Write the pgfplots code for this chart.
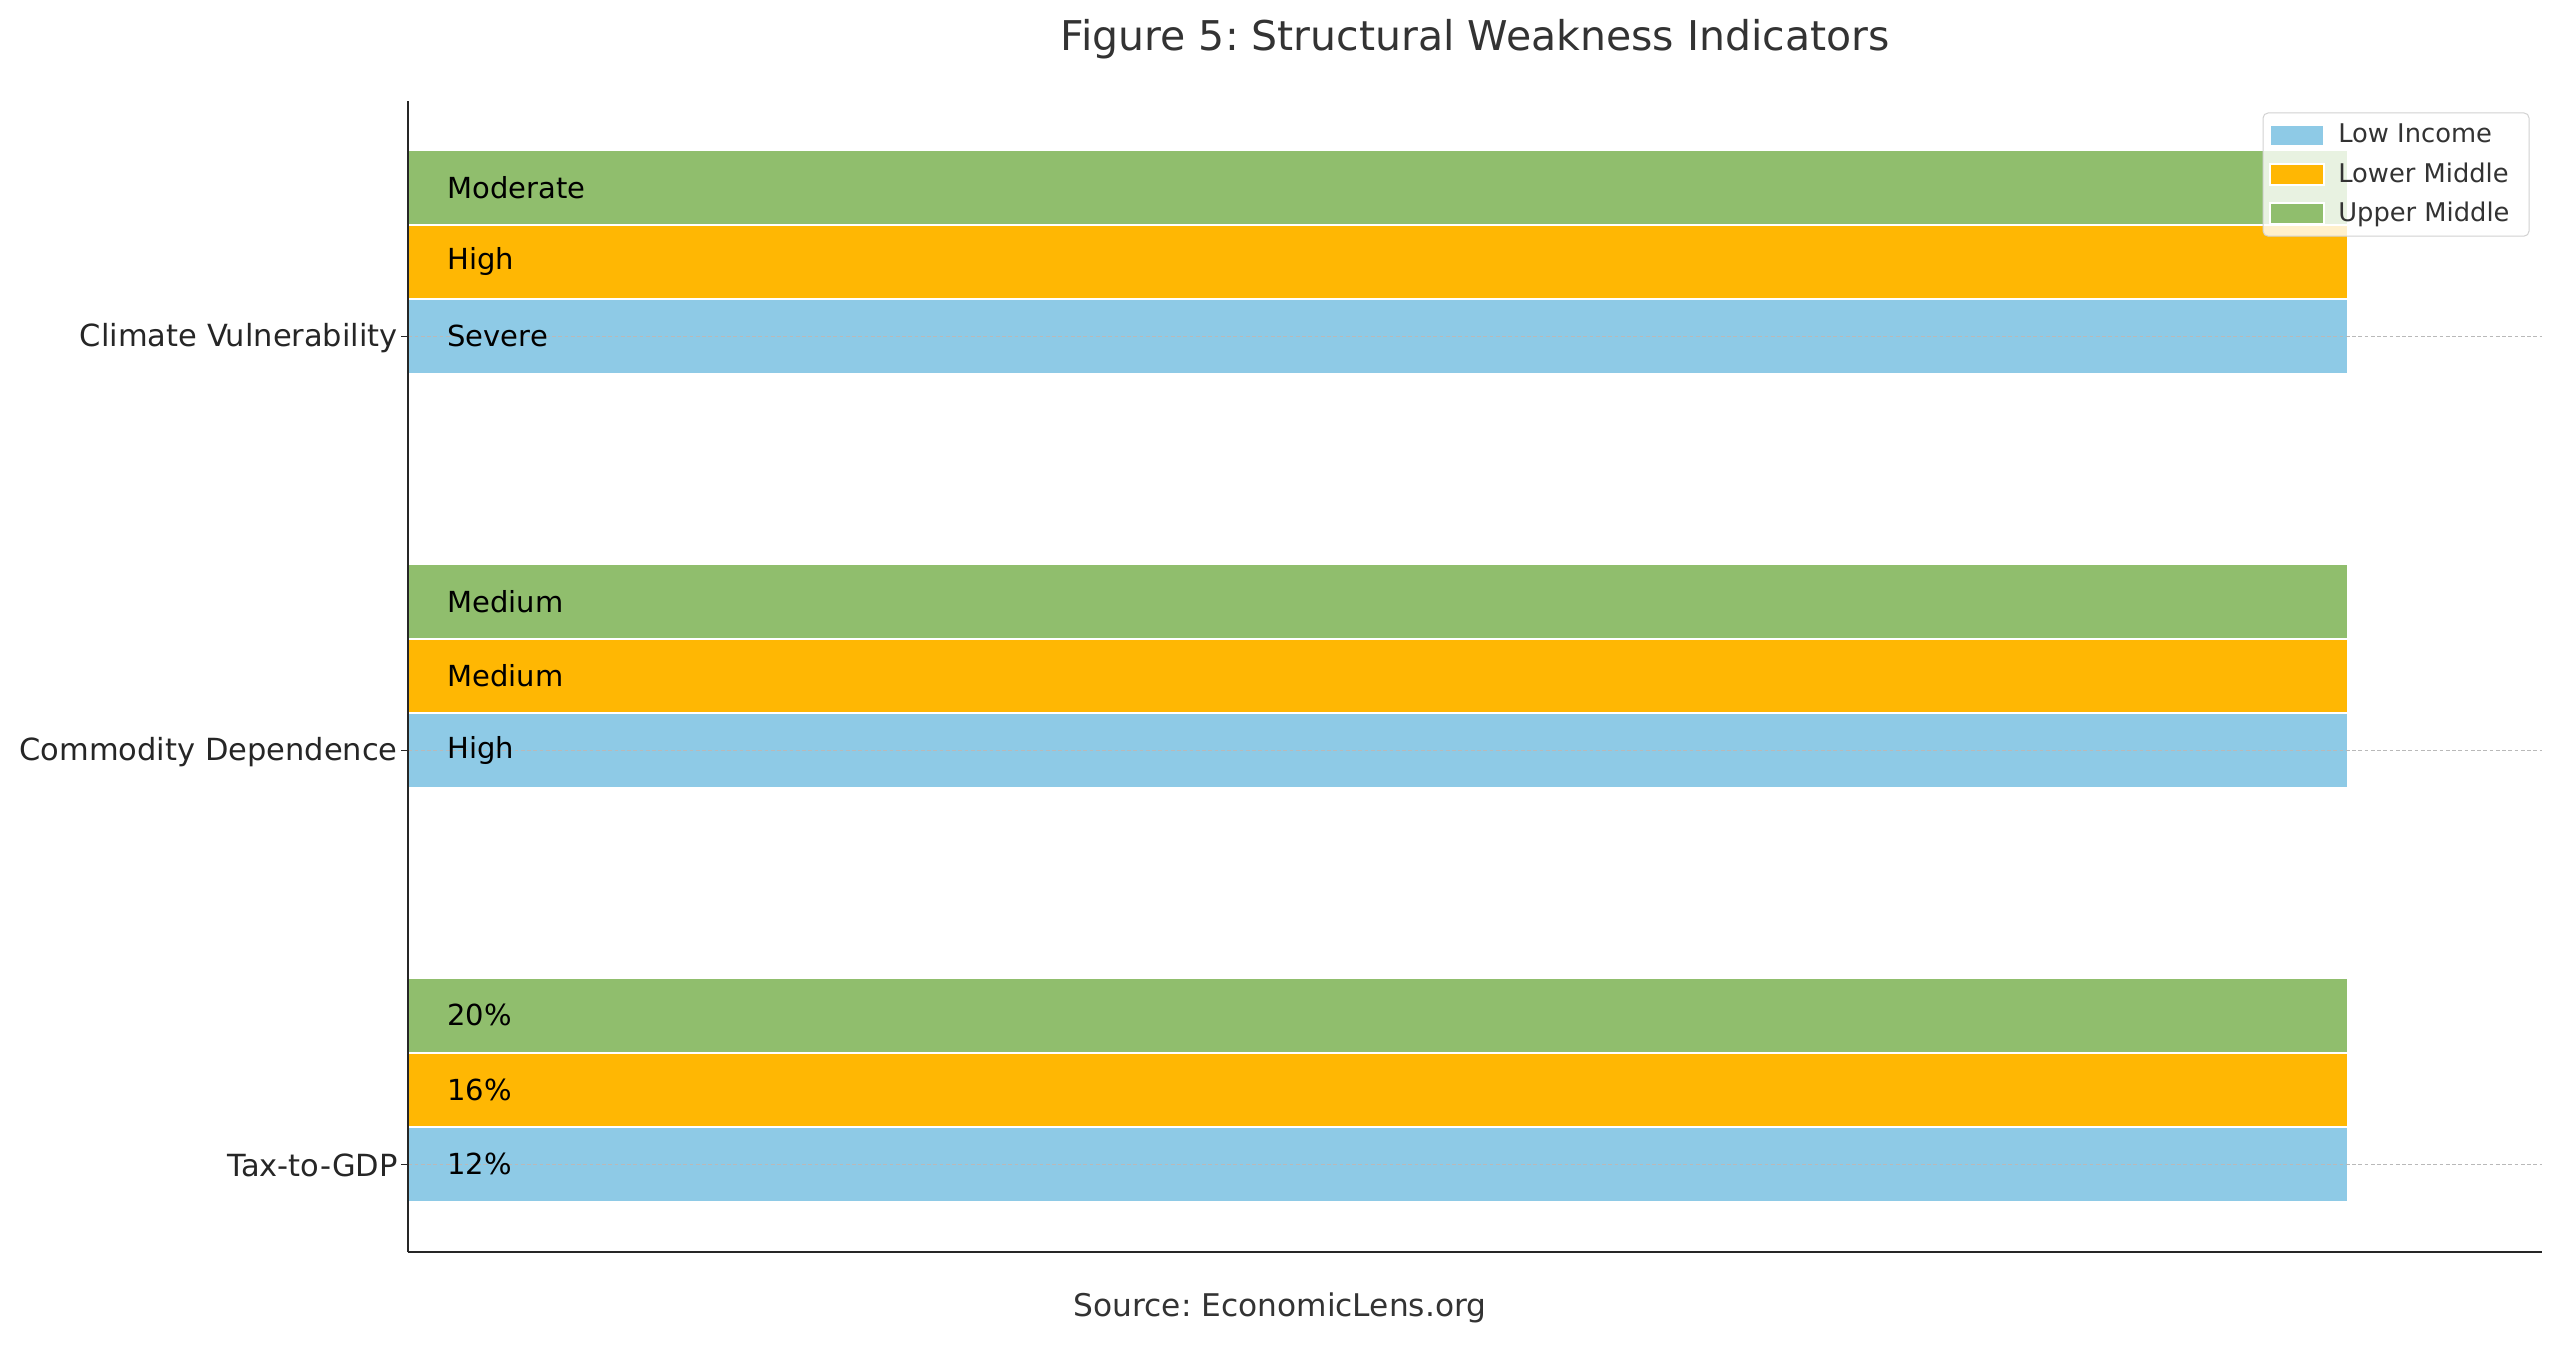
\documentclass[border=0pt]{standalone}
\usepackage{pgfplots}
\pgfplotsset{compat=1.18}
\usepackage{fontspec}
\setmainfont{DejaVu Sans}
\frenchspacing

\definecolor{lowinc}{HTML}{8ECAE6}
\definecolor{lowmid}{HTML}{FFB703}
\definecolor{upmid}{HTML}{90BE6D}
\definecolor{txtgray}{HTML}{333333}
\definecolor{spine}{HTML}{262626}

\begin{document}
\begin{tikzpicture}
\path[use as bounding box] (0,0) rectangle (1024pt,537.6pt);
\begin{axis}[
  at={(163.3pt,36.6pt)}, anchor=south west,
  scale only axis, width=853.5pt, height=460.5pt,
  xmin=0, xmax=1.1, ymin=-0.213, ymax=2.568,
  axis x line*=bottom, axis y line*=left,
  axis line style={-, spine, line width=0.8pt},
  axis on top,
  xtick=\empty,
  ytick={0,1,2},
  yticklabels={Tax-to-GDP, Commodity Dependence, Climate Vulnerability},
  tick align=outside, major tick length=2.8pt,
  tick style={spine, line width=0.6pt},
  yticklabel style={font=\fontsize{12.2}{14}\selectfont, text=spine, inner xsep=1.2pt, yshift=-0.6pt},
  ymajorgrids,
  major grid style={gray!55, dash pattern=on 1.5pt off 1pt, line width=0.4pt},
  bar width=0.18,
  legend style={at={(1,1)}, anchor=north east, xshift=-5pt, yshift=-4.5pt,
    draw=gray!35, rounded corners=2pt, fill=white, fill opacity=0.8, text opacity=1,
    font=\fontsize{10.3}{12}\selectfont, text=txtgray,
    row sep=2.3pt, inner sep=2.5pt},
  legend cell align=left,
  legend image code/.code={\fill[#1, fill opacity=1, sharp corners] (0pt,-4.2pt) rectangle (21.5pt,4.2pt);},
  legend style={nodes={inner xsep=5.3pt}},
  title={Figure 5: Structural Weakness Indicators},
  title style={font=\fontsize{16.4}{19}\selectfont, text=txtgray, yshift=7.3pt},
]
\addplot[xbar, bar shift=0, fill=lowinc, draw=white, line width=0.8pt]
  coordinates {(1,0) (1,1) (1,2)};
\addlegendentry{Low Income}
\addplot[xbar, bar shift=0.18, fill=lowmid, draw=white, line width=0.8pt]
  coordinates {(1,0) (1,1) (1,2)};
\addlegendentry{Lower Middle}
\addplot[xbar, bar shift=0.36, fill=upmid, draw=white, line width=0.8pt]
  coordinates {(1,0) (1,1) (1,2)};
\addlegendentry{Upper Middle}

% in-bar text labels
\addplot[forget plot, draw=none, mark=none, nodes near coords,
  point meta=explicit symbolic,
  every node near coord/.style={anchor=west, inner sep=0pt, text=black,
    font=\fontsize{11.6}{13}\selectfont}]
  coordinates {
    (0.02,0)[12\%] (0.02,0.18)[16\%] (0.02,0.36)[20\%]
    (0.02,1)[High] (0.02,1.18)[Medium] (0.02,1.36)[Medium]
    (0.02,2)[Severe] (0.02,2.18)[High] (0.02,2.36)[Moderate]
  };
\end{axis}
\node[font=\fontsize{12.5}{15}\selectfont, text=txtgray] at (512pt,14.6pt) {Source: EconomicLens.org};
\end{tikzpicture}
\end{document}
